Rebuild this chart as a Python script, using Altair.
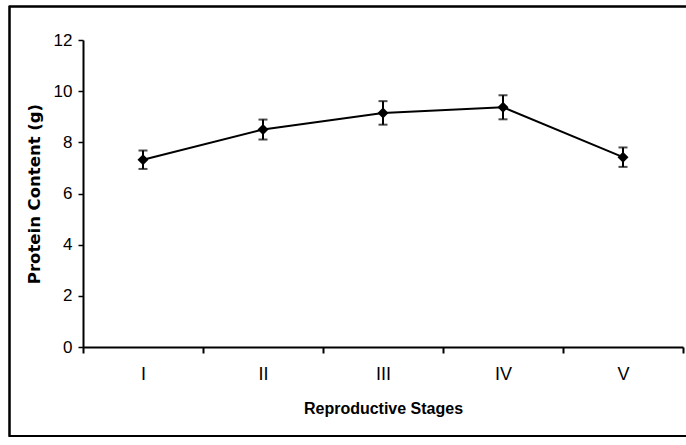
import altair as alt
import pandas as pd

stages = ["I", "II", "III", "IV", "V"]
protein = [7.32, 8.50, 9.15, 9.37, 7.42]
err = [0.36, 0.39, 0.46, 0.47, 0.38]

df = pd.DataFrame({
    "stage": stages,
    "protein": protein,
    "lo": [p - e for p, e in zip(protein, err)],
    "hi": [p + e for p, e in zip(protein, err)],
})

SANS = "Liberation Sans, Arial"

x = alt.X(
    "stage:N",
    sort=stages,
    scale=alt.Scale(paddingInner=0, paddingOuter=0),
    axis=alt.Axis(
        title="Reproductive Stages",
        labelAngle=0,
        tickBand="extent",
        labelFont=SANS,
        labelFontSize=18,
        labelColor="black",
        labelPadding=12,
        titleFont=SANS,
        titleFontSize=16,
        titleFontWeight="bold",
        titleColor="black",
        titlePadding=17,
        domainColor="black",
        domainWidth=2,
        tickColor="black",
        tickWidth=2,
        tickSize=6,
        grid=False,
    ),
)

y_axis = alt.Axis(
    title="Protein Content (g)",
    values=[0, 2, 4, 6, 8, 10, 12],
    labelFont=SANS,
    labelFontSize=17,
    labelColor="black",
    labelPadding=6,
    titleFont="DejaVu Sans",
    titleFontSize=16.5,
    titleFontWeight="bold",
    titleColor="black",
    titlePadding=11,
    domainColor="black",
    domainWidth=2,
    tickColor="black",
    tickWidth=1.5,
    tickSize=5,
    grid=False,
)
y = alt.Y("protein:Q", scale=alt.Scale(domain=[0, 12], nice=False), axis=y_axis)

base = alt.Chart(df)

border = base.mark_rect(fill=None, stroke="black", strokeWidth=1.5, clip=False).encode(
    x=alt.value(-73.5), x2=alt.value(620), y=alt.value(-33.5), y2=alt.value(396)
)

line = base.mark_line(color="black", strokeWidth=2).encode(x=x, y=y)

rules = base.mark_rule(color="black", strokeWidth=2).encode(
    x=alt.X("stage:N", sort=stages), y=alt.Y("lo:Q"), y2="hi:Q"
)
caps_hi = base.mark_tick(color="black", thickness=2, size=9, orient="horizontal").encode(
    x=alt.X("stage:N", sort=stages), y=alt.Y("hi:Q")
)
caps_lo = base.mark_tick(color="black", thickness=2, size=9, orient="horizontal").encode(
    x=alt.X("stage:N", sort=stages), y=alt.Y("lo:Q")
)
points = base.mark_point(shape="diamond", filled=True, color="black", size=120, opacity=1).encode(
    x=alt.X("stage:N", sort=stages), y=alt.Y("protein:Q")
)

chart = (
    alt.layer(border, line, rules, caps_hi, caps_lo, points)
    .properties(
        width=600,
        height=307,
        autosize=alt.AutoSizeParams(type="none"),
        padding={"left": 83, "top": 40, "right": 3, "bottom": 98},
        background="white",
    )
    .configure_view(stroke=None)
)

chart.save("out.html", embed_options={"renderer": "svg", "actions": False})
